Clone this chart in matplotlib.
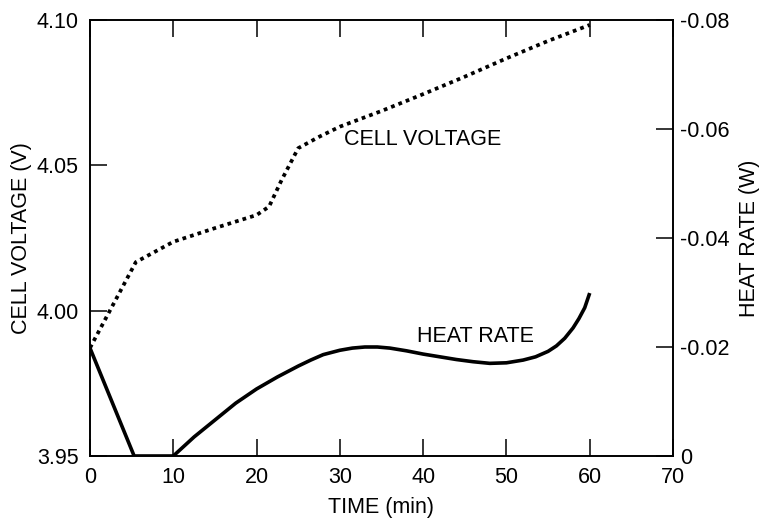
import matplotlib
matplotlib.use("Agg")
import matplotlib.pyplot as plt

plt.rcParams['font.family'] = ['Liberation Sans', 'DejaVu Sans']
plt.rcParams['axes.unicode_minus'] = False

# Cell voltage (left axis, V)
volt_t = [0, 5.5, 10, 15, 20, 21.5, 23, 25, 27.5, 30, 35, 40, 45, 50, 55, 60]
volt_v = [3.9872, 4.0167, 4.0237, 4.0284, 4.0329, 4.0358, 4.0449, 4.0559,
          4.0598, 4.0633, 4.0687, 4.0745, 4.0805, 4.0868, 4.0928, 4.0983]

# Heat rate (right axis, W)
heat_t = [0, 5.3, 10, 11, 12.5, 15, 17.5, 20, 22.5, 25, 26.5, 28, 30, 31.5, 33,
          34.5, 36, 38, 40, 42, 44, 46, 48, 50, 52, 53.5, 55, 56, 57, 58,
          58.7, 59.4, 60]
heat_w = [-0.0198, 0.0, 0.0, -0.0014, -0.0035, -0.0066, -0.0097, -0.0123,
          -0.0145, -0.0165, -0.0176, -0.0186, -0.0194, -0.0198, -0.0200,
          -0.0200, -0.0198, -0.0193, -0.0187, -0.0182, -0.0177, -0.0173,
          -0.0170, -0.0171, -0.0176, -0.0182, -0.0192, -0.0202, -0.0216,
          -0.0235, -0.0252, -0.0272, -0.0299]

x_ticks = [0, 10, 20, 30, 40, 50, 60, 70]
x_labels = ['0', '10', '20', '30', '40', '50', '60', '70']
v_ticks = [3.95, 4.00, 4.05, 4.10]
v_labels = ['3.95', '4.00', '4.05', '4.10']
w_ticks = [0, -0.02, -0.04, -0.06, -0.08]
w_labels = ['0', '-0.02', '-0.04', '-0.06', '-0.08']

FS = 15.5

fig = plt.figure(figsize=(7.6, 5.19), dpi=100)
ax = fig.add_axes([90 / 760, 1 - 456 / 519, (673 - 90) / 760, (456 - 20) / 519])
ax2 = ax.twinx()

ax.plot(volt_t, volt_v, color='black', lw=2.7, linestyle=(0, (1, 1.1)))
ax2.plot(heat_t, heat_w, color='black', lw=2.6, solid_capstyle='butt',
         solid_joinstyle='round')

ax.set_xlim(0, 70)
ax.set_ylim(3.95, 4.10)
ax2.set_ylim(0, -0.08)

ax.set_xticks(x_ticks)
ax.set_xticklabels(x_labels, fontsize=FS)
ax.set_yticks(v_ticks)
ax.set_yticklabels(v_labels, fontsize=FS)
ax2.set_yticks(w_ticks)
ax2.set_yticklabels(w_labels, fontsize=FS)

ax.tick_params(axis='x', direction='in', length=12, width=1.1, top=True, pad=8)
ax.tick_params(axis='y', direction='in', length=12, width=1.1, left=True, right=False, pad=8)
ax2.tick_params(axis='y', direction='in', length=12, width=1.1, right=True, left=False, pad=5)

for a in (ax, ax2):
    for s in a.spines.values():
        s.set_linewidth(1.2)

ax.set_xlabel('TIME (min)', fontsize=FS, labelpad=6.5)
ax.set_ylabel('CELL VOLTAGE (V)', fontsize=FS, labelpad=3)
ax2.set_ylabel('HEAT RATE (W)', fontsize=FS, labelpad=7)

ax.text(30.55, 4.0589, 'CELL VOLTAGE', fontsize=FS, ha='left', va='center')
ax.text(39.3, 3.9911, 'HEAT RATE', fontsize=FS, ha='left', va='center')

fig.savefig('out.png', dpi=100)
